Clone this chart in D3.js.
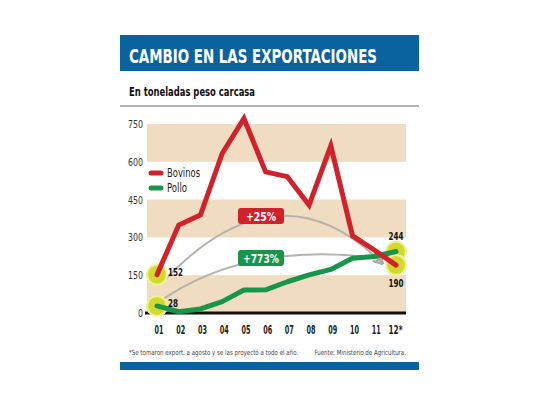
<!DOCTYPE html>
<html><head><meta charset="utf-8">
<script src="https://cdn.jsdelivr.net/npm/d3@7"></script>
<style>body{margin:0;background:#fff}svg{display:block}</style>
</head><body>
<script>
const months = ["01","02","03","04","05","06","07","08","09","10","11","12*"];
const bovinos = [152,349,389,633,772,560,541,428,663,306,250,190];
const pollo = [28,5,16,45,91,92,124,151,173,217,224,244];
const yTicks = [0,150,300,450,600,750];
const bands = [[0,150],[300,450],[600,750]];
const title = "CAMBIO EN LAS EXPORTACIONES";
const subtitle = "En toneladas peso carcasa";
const noteLeft = "*Se tomaron export. a agosto y se las proyectó a todo el año.";
const noteRight = "Fuente: Ministerio de Agricultura.";

const W=540,H=405;
const F = "'Liberation Sans Narrow','DejaVu Sans Condensed','Arial Narrow',sans-serif";
const RED="#d1212a", GREEN="#17954a", BLUE="#0a639e", TAN="#f0dcc0", YEL="#d3da2c";
const svg = d3.select("body").append("svg").attr("width",W).attr("height",H);
const defs = svg.append("defs");
defs.append("marker").attr("id","arr").attr("viewBox","0 0 10 10").attr("refX",8).attr("refY",5)
  .attr("markerWidth",5).attr("markerHeight",5).attr("orient","auto")
  .append("path").attr("d","M0,0L10,5L0,10").attr("fill","none").attr("stroke","#aaa").attr("stroke-width",2);
const fit=(sel,w)=>sel.attr("textLength",w).attr("lengthAdjust","spacingAndGlyphs");

// header
svg.append("rect").attr("x",120).attr("y",35).attr("width",299).attr("height",36).attr("fill",BLUE);
fit(svg.append("text").attr("x",129).attr("y",63).attr("fill","#fff").attr("font-family",F)
  .attr("font-weight","bold").attr("font-size",19).text(title),248);
fit(svg.append("text").attr("x",129).attr("y",96).attr("fill","#111").attr("font-family",F)
  .attr("font-weight","bold").attr("font-size",12).text(subtitle),126);
svg.append("line").attr("x1",120).attr("x2",419).attr("y1",106).attr("y2",106).attr("stroke","#999").attr("stroke-width",1.5);

const x = d3.scalePoint().domain(months).range([157,396]);
const y = d3.scaleLinear().domain([0,750]).range([313,124]);

// bands
svg.selectAll(".band").data(bands).join("rect").attr("x",147).attr("width",259)
  .attr("y",d=>y(d[1])).attr("height",d=>y(d[0])-y(d[1])).attr("fill",TAN);

// y axis labels
const yAxis = d3.axisLeft(y).tickValues(yTicks).tickSize(0).tickPadding(0);
const gy = svg.append("g").attr("transform","translate(143,0)").call(yAxis);
gy.select(".domain").remove();
gy.selectAll("text").attr("font-family",F).attr("font-size",11).attr("fill","#333")
  .each(function(d){fit(d3.select(this),String(d).length*5);});

// x axis labels
const xAxis = d3.axisBottom(x).tickSize(0).tickPadding(0);
const gx = svg.append("g").attr("transform","translate(0,326)").call(xAxis);
gx.select(".domain").remove();
gx.selectAll("text").attr("font-family",F).attr("font-weight","bold").attr("font-size",11.5).attr("fill","#222")
  .attr("dx",(d,i)=>i===11?-1:1.5)
  .each(function(d){fit(d3.select(this),d.length===3?14:9);});

// baseline
svg.append("line").attr("x1",145).attr("x2",406).attr("y1",y(0)).attr("y2",y(0)).attr("stroke","#111").attr("stroke-width",3);

// gray arcs
const p0r=[x("01")+6,y(152)+7], p2r=[x("12*")-14,y(190)-2];
svg.append("path").attr("d",`M${p0r}Q278,160 ${p2r}`).attr("fill","none").attr("stroke","#b5b2ad")
  .attr("stroke-width",2).attr("marker-end","url(#arr)");
const p0g=[x("01")+5,y(28)-6], p2g=[x("12*")-15,y(244)+7];
svg.append("path").attr("d",`M${p0g}Q250,240 ${p2g}`).attr("fill","none").attr("stroke","#b5b2ad")
  .attr("stroke-width",2).attr("marker-end","url(#arr)");

// circles
const circ = [[months[0],152],[months[0],28],[months[11],244],[months[11],190]];
svg.selectAll(".c").data(circ).join("circle").attr("cx",d=>x(d[0])).attr("cy",d=>y(d[1]))
  .attr("r",10).attr("fill",YEL).attr("stroke","#eef2a0").attr("stroke-width",2);

// lines
const line = d3.line().x((d,i)=>x(months[i])).y(d=>y(d));
svg.append("path").attr("d",line(pollo)).attr("fill","none").attr("stroke",GREEN).attr("stroke-width",5)
  .attr("stroke-linejoin","round").attr("stroke-linecap","round");
svg.append("path").attr("d",line(bovinos)).attr("fill","none").attr("stroke",RED).attr("stroke-width",5)
  .attr("stroke-linejoin","miter").attr("stroke-linecap","round");

// value labels
const lab = (t,xx,yy,anchor)=>fit(svg.append("text").attr("x",xx).attr("y",yy).attr("text-anchor",anchor)
  .attr("font-family",F).attr("font-weight","bold").attr("font-size",11).attr("fill","#111").text(t),String(t).length*5);
lab(bovinos[0],x("01")+11,y(152)+1,"start");
lab(pollo[0],x("01")+11,y(28)+1,"start");
lab(pollo[11],x("12*"),y(244)-12,"middle");
lab(bovinos[11],x("12*"),y(190)+22,"middle");

// change boxes
const box=(t,yy,col,w)=>{
  svg.append("rect").attr("x",238).attr("y",yy).attr("width",46).attr("height",16).attr("rx",3).attr("fill",col);
  fit(svg.append("text").attr("x",261).attr("y",yy+12.5).attr("text-anchor","middle").attr("fill","#fff")
    .attr("font-family",F).attr("font-weight","bold").attr("font-size",13).text(t),w);
};
box("+25%",208,RED,30);
box("+773%",250,GREEN,36);

// legend
const leg=[["Bovinos",RED,173,33],["Pollo",GREEN,188,20]];
leg.forEach(([t,c,yy,w])=>{
  svg.append("line").attr("x1",151).attr("x2",161).attr("y1",yy).attr("y2",yy).attr("stroke",c)
    .attr("stroke-width",5).attr("stroke-linecap","round");
  fit(svg.append("text").attr("x",167).attr("y",yy+4).attr("font-family",F).attr("font-size",11.5).attr("fill","#222").text(t),w);
});

// footnotes (condensed via horizontal scale)
svg.append("g").attr("transform","translate(129,355) scale(0.85,1)")
  .append("text").attr("x",0).attr("y",0).attr("font-family",F).attr("font-size",7.2).attr("fill","#444").text(noteLeft);
svg.append("g").attr("transform","translate(406,355) scale(0.85,1)")
  .append("text").attr("x",0).attr("y",0).attr("text-anchor","end").attr("font-family",F).attr("font-size",7.2).attr("fill","#444").text(noteRight);
svg.append("rect").attr("x",120).attr("y",362).attr("width",299).attr("height",8).attr("fill",BLUE);
</script>
</body></html>
